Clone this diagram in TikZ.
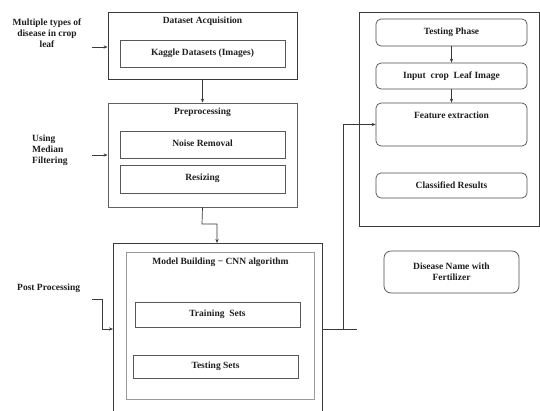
\documentclass[tikz,border=0pt]{standalone}
\usepackage{fontspec}
\setmainfont{Liberation Serif}
\usetikzlibrary{arrows.meta}
\definecolor{edgedark}{HTML}{3A3A3A}
\definecolor{edgelight}{HTML}{9A9A9A}
\definecolor{txt}{HTML}{1E1E1E}
\tikzset{
  every node/.style={font=\fontsize{9.5}{11}\selectfont\bfseries, text=txt},
  outerbox/.style={draw=edgedark, line width=0.8pt, inner sep=0pt},
  innerbox/.style={draw=edgedark!85, line width=0.8pt, inner sep=0pt},
  lightbox/.style={draw=edgelight, line width=0.9pt, inner sep=0pt},
  roundbox/.style={draw=edgedark!90, line width=0.7pt, rounded corners=5pt, inner sep=0pt},
  toplabel/.style={anchor=north, inner sep=0pt},
  conn/.style={draw=edgedark, line width=0.7pt},
  arr/.style={conn, -{Stealth[length=4pt,width=3.2pt]}},
  sidetext/.style={inner sep=0pt, align=center}
}
\begin{document}
\begin{tikzpicture}[x=1pt,y=-1pt]
\clip (0,0) rectangle (540,410);
\fill[white] (0,0) rectangle (540,410);

% left column
\node[outerbox, minimum width=189pt, minimum height=67pt,
  label={[toplabel, yshift=-5pt]north:Dataset Acquisition}] (dsa) at (202.5,45.5) {};
\node[innerbox, minimum width=165pt, minimum height=27pt] (kag) at (202.5,53.5) {Kaggle Datasets (Images)};

\node[outerbox, draw=edgedark!80, minimum width=189pt, minimum height=104pt,
  label={[toplabel, yshift=-5pt]north:Preprocessing}] (pre) at (202.5,155) {};
\node[innerbox, minimum width=165pt, minimum height=27pt] (noise) at (202.5,144.5) {\raisebox{3pt}{Noise Removal}};
\node[innerbox, minimum width=165pt, minimum height=28pt] (resz) at (202.5,179) {\raisebox{3pt}{Resizing}};

\node[outerbox, minimum width=209pt, minimum height=180pt, anchor=north west] (model) at (113,243) {};
\node[lightbox, minimum width=188pt, minimum height=147pt, anchor=north west,
  label={[toplabel, yshift=-6pt]north:Model Building − CNN algorithm}] (modin) at (126,252) {};
\node[innerbox, minimum width=165pt, minimum height=25pt] (train) at (217.5,314.5) {\raisebox{2pt}{Training\ \ Sets}};
\node[innerbox, minimum width=165pt, minimum height=23pt] (tests) at (215.5,366.5) {Testing Sets};

% side texts
\node[sidetext] (multi) at (47,33) {Multiple\ types of\\disease in crop\\leaf};
\node[sidetext, align=left, anchor=west] (median) at (32,150) {Using\\Median\\Filtering};
\node[inner sep=0pt, anchor=west] (post) at (17,288) {Post Processing};

% right column
\node[outerbox, minimum width=180pt, minimum height=214pt, anchor=north west] (right) at (359,12) {};
\node[roundbox, minimum width=151pt, minimum height=27pt] (tphase) at (451.5,32.5) {Testing Phase};
\node[roundbox, minimum width=151pt, minimum height=26pt] (input) at (451.5,76) {Input\ \ crop\ \ Leaf Image};
\node[roundbox, minimum width=151pt, minimum height=43pt,
  label={[toplabel, yshift=-9pt]north:Feature extraction}] (feat) at (451.5,124.5) {};
\node[roundbox, minimum width=151pt, minimum height=25pt] (cls) at (451.5,185.5) {Classified Results};
\node[roundbox, rounded corners=7pt, minimum width=135pt, minimum height=42pt, align=center] (dis) at (451.5,272) {Disease Name with\\Fertilizer};

% connectors
\coordinate (m1) at (92,47);
\coordinate (m2) at (92,155);
\coordinate (p1) at (92,299);
\coordinate (bend) at (202,224);
\coordinate (junc) at (343,329);
\coordinate (jend) at (357,329);

\draw[arr] (dsa.south) -- (pre.north);
\draw[arr] (pre.south) -- (bend) -| (217,243);
\draw[arr] (m1) -- (m1 -| dsa.west);
\draw[arr] (m2) -- (m2 -| pre.west);
\draw[arr] (p1) -| (102,329) -- (junc -| model.west);
\draw[conn] (junc -| model.east) -- (jend);
\draw[arr] (junc) |- (feat.west);
\draw[arr] (tphase.south) -- (input.north);
\draw[arr] (input.south) -- (feat.north);
\end{tikzpicture}
\end{document}
